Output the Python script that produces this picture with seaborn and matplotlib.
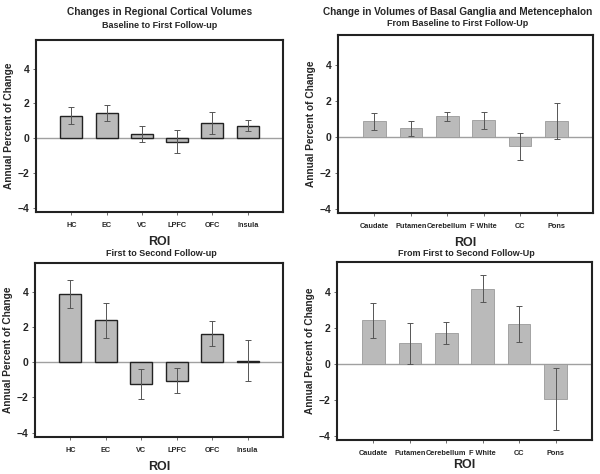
import pandas as pd
import seaborn as sns
import matplotlib.pyplot as plt

# ROI categories
cortical = ["HC", "EC", "VC", "LPFC", "OFC", "Insula"]
basal = ["Caudate", "Putamen", "Cerebellum", "F White", "CC", "Pons"]

# annual percent of change and error bar half-lengths
cort_t1 = [1.30, 1.45, 0.25, -0.20, 0.87, 0.72]
cort_t1_err = [0.47, 0.46, 0.45, 0.68, 0.61, 0.30]
cort_t2 = [3.87, 2.38, -1.23, -1.04, 1.62, 0.09]
cort_t2_err = [0.79, 1.01, 0.86, 0.69, 0.72, 1.17]

basal_t1 = [0.84, 0.45, 1.12, 0.90, -0.54, 0.88]
basal_t1_err = [0.45, 0.39, 0.26, 0.49, 0.76, 0.99]
basal_t2 = [2.41, 1.13, 1.69, 4.17, 2.19, -1.98]
basal_t2_err = [0.96, 1.13, 0.60, 0.75, 1.01, 1.74]

sns.set_style("white")
plt.rcParams["font.family"] = ["Liberation Sans", "DejaVu Sans"]
plt.rcParams["font.weight"] = "bold"

fig = plt.figure(figsize=(6, 4.74), dpi=100)
W, H = 600, 474


def px_axes(left, top, right, bottom):
    return fig.add_axes([left / W, 1 - bottom / H, (right - left) / W, (bottom - top) / H])


def panel(ax, cats, vals, errs, edged):
    df = pd.DataFrame({"ROI": cats, "change": vals})
    sns.barplot(data=df, x="ROI", y="change", ax=ax, color="#bababa",
                saturation=1, width=0.62,
                edgecolor="#222222" if edged else "#9a9a9a",
                linewidth=1.0 if edged else 0.6)
    ax.errorbar(range(len(cats)), vals, yerr=errs, fmt="none",
                ecolor="#555555", elinewidth=0.7, capsize=2.5, capthick=0.7)
    ax.axhline(0, color="#a0a0a0", lw=1.0, zorder=0)
    ax.set_ylim(-4.25, 5.65)
    ax.set_xlim(-1.0, 6.0)
    ax.set_yticks([-4, -2, 0, 2, 4])
    ax.tick_params(axis="both", which="both", direction="out", length=2.5,
                   width=0.6, color="#555555", pad=2, bottom=True, left=True)
    ax.tick_params(axis="x", labelsize=5.3, pad=4.5)
    ax.tick_params(axis="y", labelsize=7.5)
    for lab in ax.get_xticklabels() + ax.get_yticklabels():
        lab.set_fontweight("bold")
    ax.set_xlabel("ROI", fontsize=9, fontweight="bold", labelpad=5)
    ax.set_ylabel("Annual Percent of Change", fontsize=7.3, fontweight="bold", labelpad=3)
    for s in ax.spines.values():
        s.set_visible(True)
        s.set_linewidth(1.5)
        s.set_color("#222222")


ax1 = px_axes(36, 40, 283, 212)
panel(ax1, cortical, cort_t1, cort_t1_err, True)
ax2 = px_axes(338, 35, 593, 213)
panel(ax2, basal, basal_t1, basal_t1_err, False)
ax3 = px_axes(35, 263, 283, 437)
panel(ax3, cortical, cort_t2, cort_t2_err, True)
ax4 = px_axes(337, 262, 592, 440)
panel(ax4, basal, basal_t2, basal_t2_err, False)
ax4.xaxis.labelpad = 2

fig.text(160 / W, 1 - 12 / H, "Changes in Regional Cortical Volumes",
         ha="center", va="center", fontsize=7.3, fontweight="bold")
fig.text(160 / W, 1 - 25 / H, "Baseline to First Follow-up",
         ha="center", va="center", fontsize=6.5, fontweight="bold")
fig.text(458 / W, 1 - 12 / H, "Change in Volumes of Basal Ganglia and Metencephalon",
         ha="center", va="center", fontsize=7.2, fontweight="bold")
fig.text(458 / W, 1 - 24 / H, "From Baseline to First Follow-Up",
         ha="center", va="center", fontsize=6.5, fontweight="bold")
fig.text(161 / W, 1 - 253 / H, "First to Second Follow-up",
         ha="center", va="center", fontsize=6.5, fontweight="bold")
fig.text(466 / W, 1 - 253.5 / H, "From First to Second Follow-Up",
         ha="center", va="center", fontsize=6.5, fontweight="bold")

fig.savefig("out.png", dpi=100)
